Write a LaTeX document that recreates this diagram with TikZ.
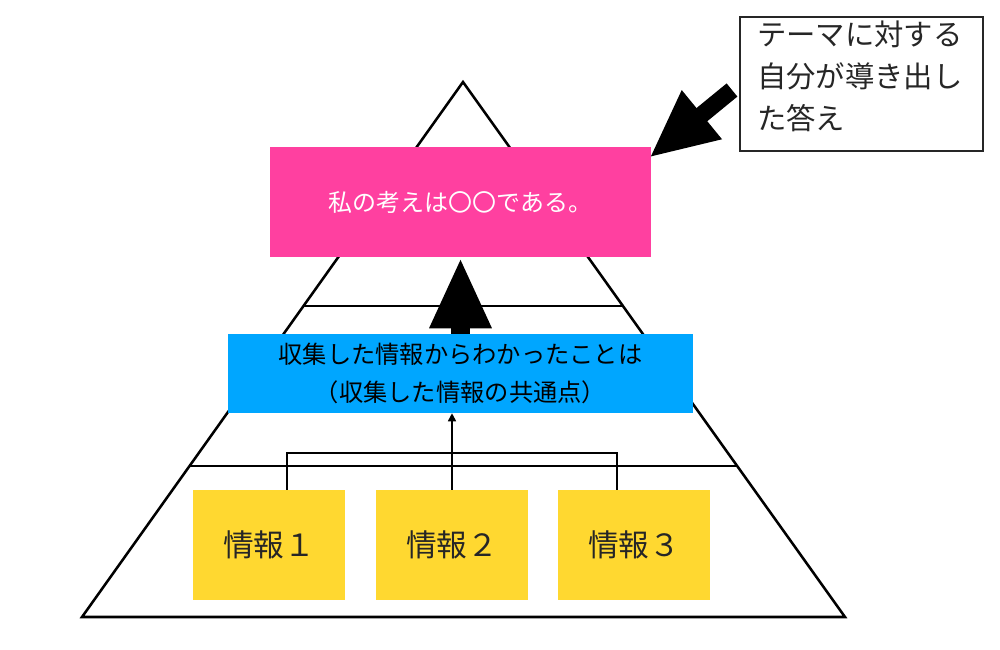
\documentclass[tikz,border=0pt]{standalone}
\usepackage{fontspec}
\newfontfamily\jp{Noto Sans CJK JP}
\usetikzlibrary{arrows.meta,calc}
\definecolor{pinkbox}{HTML}{FF40A0}
\definecolor{bluebox}{HTML}{00A6FF}
\definecolor{yellowbox}{HTML}{FFD830}
\tikzset{
  fillbox/.style={draw=none, inner sep=0pt, align=center},
  pinkstyle/.style={fillbox, fill=pinkbox, text=white, minimum width=285.75pt, minimum height=82.5pt, font=\jp\fontsize{18}{22}\selectfont},
  bluestyle/.style={fillbox, fill=bluebox, text=black, minimum width=348.75pt, minimum height=59.25pt, font=\jp\fontsize{18.2}{28}\selectfont},
  yellowstyle/.style={fillbox, fill=yellowbox, text=black!85, minimum width=114pt, minimum height=82.5pt, font=\jp\fontsize{23}{26}\selectfont},
  calloutbox/.style={draw=black!85, line width=1.5pt, fill=white, minimum width=182.25pt, minimum height=100.5pt, inner sep=0pt},
  callouttext/.style={anchor=base west, inner sep=0pt, text=black!85, font=\jp\fontsize{22}{26}\selectfont},
  pyramidline/.style={draw=black, line width=1.9pt, line join=miter},
  layerline/.style={draw=black, line width=1.5pt},
  thinconn/.style={draw=black, line width=1.2pt},
  bigarrowA/.style={draw=black, line width=12.75pt, line cap=butt, -{Triangle[width=43.5pt,length=51pt]}},
  bigarrowB/.style={draw=black, line width=14.25pt, line cap=butt, -{Triangle[width=42.75pt,length=53.25pt]}},
}
\begin{document}
\begin{tikzpicture}[x=0.75pt,y=-0.75pt]
\useasboundingbox (0,0) rectangle (1000,650);
% pyramid
\draw[pyramidline] (463,82) -- (845,617) -- (82,617) -- cycle;
\draw[layerline] (304,306) -- (622,306);
\draw[layerline] (190,466) -- (737,466);
% boxes
\node[pinkstyle] (pink) at (460.5,202) {私の考えは〇〇である。};
\node[bluestyle] (blue) at (460.5,373.5) {収集した情報からわかったことは\\（収集した情報の共通点）};
\node[yellowstyle] (y1) at (269,545) {情報１};
\node[yellowstyle] (y2) at (452,545) {情報２};
\node[yellowstyle] (y3) at (634,545) {情報３};
% callout
\node[calloutbox] (callout) at (861.5,84) {};
\begin{scope}
\clip (callout.south west) rectangle (callout.north east);
\node[callouttext] (c1) at (757,45) {テーマに対する};
\node[callouttext] (c2) at (757,87) {自分が導き出し};
\node[callouttext] (c3) at (757,129) {た答え};
\end{scope}
% connectors
\coordinate (atail) at ($(callout.west)+(-5.25pt,-4.5pt)$);
\coordinate (atip) at ($(pink.north east)+(-1.5pt,-8.25pt)$);
\draw[bigarrowA] (atail) -- (atip);
\draw[bigarrowB] (blue.north) -- (pink.south);
\draw[thinconn] ([xshift=13.5pt]y1.north) |- ([yshift=27.75pt]y2.north) -| ([xshift=-12.75pt]y3.north);
\draw[thinconn, -{Triangle[width=6pt,length=6pt]}] (y2.north) -- (y2.north |- blue.south);
\end{tikzpicture}
\end{document}
